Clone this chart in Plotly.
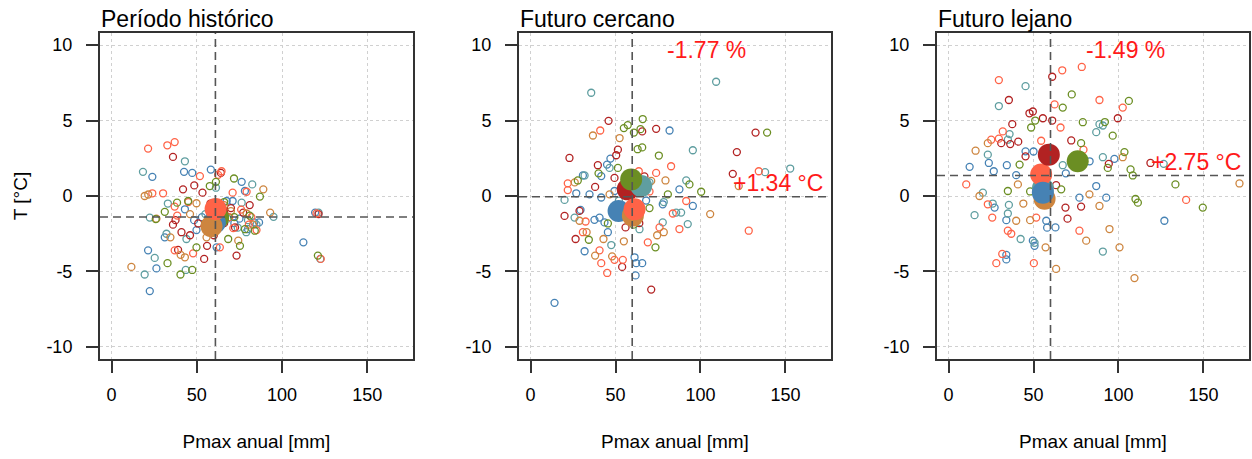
import plotly.graph_objects as go

# ---------------------------------------------------------------------------
# Scatter of annual max precipitation vs. temperature anomaly, per model,
# for the historical period and two future horizons.
# ---------------------------------------------------------------------------

panel_titles = ["Período histórico", "Futuro cercano", "Futuro lejano"]
model_colors = ["#4682B4", "#5F9EA0", "#B22222", "#FF6347", "#CD853F", "#6B8E23"]

x_ticks = [0, 50, 100, 150]
y_ticks = [-10, -5, 0, 5, 10]
y_ticklabels = ["-10", "-5", "0", "5", "10"]

# reference (historical) centre and projected changes
hist_pmax_mean = 60.9
hist_t_mean = -1.39
pmax_change_pct = [None, -1.77, -1.49]
t_change_deg = [None, 1.34, 2.75]

# --- historical period: [Pmax, T] per model -------------------------------
hist_steelblue = [[58.2, 1.75], [47.3, 1.53], [42.5, 1.6], [23.9, 1.27], [76.3, 0.94], [21.4, -3.6],
                  [26.3, -4.8], [22.4, -6.3], [112.5, -3.07], [119.4, -1.1], [31.2, -2.74], [49.8, -2.26],
                  [48.4, -1.6], [83.7, -1.75], [86.5, -1.75], [67.5, -0.33], [71.0, -0.33], [78.2, 0.33],
                  [61.6, -3.4], [43.0, -0.88], [53.0, -1.4], [66.0, -1.2], [72.0, -1.8], [57.0, -2.2],
                  [64.0, -0.9], [80.0, -2.2], [75.0, -1.5]]
hist_cadetblue = [[43.0, 2.3], [18.4, 1.6], [82.5, 0.77], [95.0, -1.38], [22.4, -1.43], [25.3, -4.1],
                  [19.4, -5.2], [43.5, -4.9], [61.2, 0.55], [76.3, -0.44], [32.2, -2.5], [43.9, -2.85],
                  [33.0, -0.5], [121.4, -1.1], [122.4, -4.17], [68.0, -1.5], [74.0, -2.1], [55.0, -1.2],
                  [80.0, -1.6], [85.0, -1.9], [79.0, -2.4]]
hist_firebrick = [[36.0, 2.59], [41.9, 0.44], [53.3, 0.22], [48.5, 0.7], [36.0, -1.9], [41.0, -2.4],
                  [46.0, -2.6], [39.0, -3.57], [54.3, -4.17], [56.0, -3.3], [73.3, -3.95], [121.4, -1.2],
                  [77.2, -1.1], [72.4, -2.08], [50.8, -1.82], [64.1, 1.53], [37.5, -1.6], [66.0, -1.8],
                  [58.0, -0.5], [70.0, -0.8], [81.0, -0.6], [60.0, -2.6]]
hist_tomato = [[21.4, 3.14], [32.7, 3.36], [37.0, 3.57], [30.2, 0.18], [23.9, 0.18], [51.8, 1.32],
               [71.0, 0.22], [79.2, 0.28], [37.0, -0.7], [38.5, -1.3], [47.8, -3.8], [37.0, -3.6],
               [63.5, -3.4], [85.0, -2.26], [80.5, -1.9], [71.4, -2.13], [122.7, -4.17], [120.2, -1.15],
               [64.5, 1.64], [62.5, 1.4], [69.0, -1.4], [45.0, -0.4], [82.0, -1.4], [76.0, -0.9]]
hist_peru = [[19.4, 0.0], [21.5, 0.1], [26.3, -1.5], [11.6, -4.7], [49.8, -0.48], [89.0, 0.44],
             [93.0, -1.1], [74.3, -2.96], [43.0, -4.06], [40.5, -3.9], [55.7, -2.74], [34.5, -2.74],
             [79.2, -1.16], [63.0, -1.8], [70.0, -1.0], [46.0, -1.2], [66.0, -0.6], [83.0, -1.9]]
hist_olivedrab = [[71.8, 1.16], [61.2, 0.94], [57.6, 0.66], [87.0, -0.04], [38.4, -0.44], [31.2, -1.05],
                  [25.9, -1.53], [32.8, -4.45], [40.4, -5.2], [47.3, -4.9], [49.8, -3.4], [75.3, -3.3],
                  [68.4, -2.85], [121.0, -3.95], [78.2, -2.2], [44.9, -0.33], [72.0, -1.4], [65.0, -1.3],
                  [81.0, -1.3], [55.0, -1.8], [84.0, -2.3], [66.0, -0.4]]
hist_model_means = [[60.6, -1.75], [61.5, -1.5], [62.0, -1.2], [61.0, -0.86], [58.6, -2.0], [62.5, -1.45]]

# --- near future ----------------------------------------------------------
near_steelblue = [[47.0, 2.48], [45.0, 2.08], [30.8, 1.36], [26.9, 0.18], [34.7, 0.11], [29.4, -0.92],
                  [37.6, -1.58], [43.5, -1.75], [45.5, -2.4], [41.6, 1.32], [49.4, 0.33], [41.6, -0.1],
                  [81.8, 4.34], [95.5, -0.66], [87.6, 0.44], [77.8, -0.55], [31.8, -3.66], [62.2, -4.45],
                  [65.7, -4.45], [61.8, -5.26], [14.1, -7.08], [40.6, -1.43], [61.2, -4.06], [55.0, 0.5],
                  [68.0, -0.3]]
near_cadetblue = [[35.7, 6.84], [109.2, 7.57], [95.5, 3.03], [91.6, 1.03], [88.6, -1.1], [85.7, -1.1],
                  [92.5, -1.86], [77.8, -1.75], [20.0, -0.26], [47.5, -3.25], [64.1, -2.2], [78.4, -0.4],
                  [31.8, 1.36], [46.5, 1.86], [25.9, -1.43], [138.0, 1.58], [152.8, 1.82], [70.0, 0.9],
                  [52.0, -0.3]]
near_firebrick = [[45.9, 4.98], [22.9, 2.52], [65.7, 4.28], [73.9, 4.45], [132.4, 4.2], [121.4, 2.91],
                  [119.0, 1.47], [39.6, 2.04], [51.4, 3.07], [50.4, 2.7], [26.5, -2.85], [20.0, -1.32],
                  [53.9, -4.7], [71.0, -6.2], [49.4, 1.2], [67.0, 1.3], [28.8, -0.99], [55.9, -2.08],
                  [64.0, -1.8], [38.0, 0.6]]
near_tomato = [[41.0, 4.34], [21.9, 0.84], [21.9, 0.39], [82.7, 1.97], [134.3, 1.64], [128.4, -2.3],
               [83.7, -1.16], [87.6, -2.19], [91.6, -0.33], [41.6, -4.45], [45.1, -5.1], [49.4, -4.23],
               [54.3, -4.23], [40.6, -3.6], [30.8, -2.4], [69.0, -3.07], [75.9, -2.08], [73.9, 1.53],
               [63.7, 1.64], [32.4, -1.69], [58.0, -1.5], [70.0, 0.3]]
near_peru = [[36.7, 4.01], [52.4, 3.84], [105.7, -1.2], [122.5, 0.66], [78.4, -2.4], [74.5, -2.6],
             [54.9, -3.0], [38.0, -3.95], [48.0, -4.0], [42.9, -2.85], [33.0, -2.4], [28.8, -1.64],
             [79.4, 1.03], [71.0, 1.0], [46.5, 0.11], [26.0, 0.9], [60.0, -1.4]]
near_olivedrab = [[66.0, 5.1], [57.2, 4.7], [54.9, 4.5], [60.8, 4.2], [64.7, 4.43], [63.0, 3.1],
                  [65.7, 3.22], [75.5, 2.68], [139.2, 4.2], [100.4, 0.28], [93.5, 0.77], [80.8, 0.11],
                  [73.5, -3.4], [34.3, -2.9], [27.8, 1.03], [51.4, 1.86], [45.5, -1.82], [60.5, -1.9],
                  [40.0, 1.5], [70.0, -0.8]]
near_model_means = [[51.8, -0.99], [65.1, 0.66], [57.2, 0.44], [61.2, -0.88], [60.2, -1.3], [59.2, 1.1]]

# --- far future -----------------------------------------------------------
far_steelblue = [[12.4, 1.93], [23.7, 2.19], [34.3, 2.04], [45.3, 2.96], [50.0, 2.95], [39.8, 1.38],
                 [26.6, 1.64], [27.1, -0.77], [34.0, -1.6], [49.6, -2.96], [50.6, -3.3], [62.9, -2.08],
                 [58.0, -2.1], [86.9, 0.66], [92.8, -0.11], [127.0, -1.64], [97.6, 2.46], [77.0, -0.11],
                 [57.5, -1.64], [34.0, -3.9], [34.0, -4.2], [83.0, 2.3], [69.0, 1.5]]
far_cadetblue = [[45.3, 7.28], [29.6, 5.96], [86.9, 4.23], [90.8, 4.67], [88.8, 4.76], [90.8, 2.57],
                 [126.6, 2.13], [15.3, -1.27], [34.9, -1.16], [42.4, -2.85], [50.6, -3.1], [90.8, -3.68],
                 [23.1, 2.74], [35.9, 4.1], [34.9, 3.73], [67.2, 2.04], [20.2, 0.22], [35.5, -0.59],
                 [26.0, -0.5]]
far_firebrick = [[61.0, 7.9], [35.5, 6.36], [47.6, 5.48], [49.6, 5.6], [55.5, 5.15], [61.0, 5.0],
                 [99.6, 5.15], [37.5, 4.76], [72.2, 3.68], [36.3, 3.44], [31.0, 3.5], [41.0, 3.6],
                 [45.3, 2.63], [63.3, 0.72], [68.8, -0.77], [78.0, -0.7], [94.3, 2.13], [118.8, 2.19],
                 [70.0, -1.5]]
far_tomato = [[29.6, 7.68], [66.9, 8.33], [78.4, 8.55], [88.8, 6.36], [102.5, 5.86], [62.4, 6.07],
              [65.9, 4.54], [31.9, 4.28], [29.6, 3.8], [25.1, 3.73], [54.5, 3.66], [79.4, 3.07],
              [10.4, 0.77], [23.1, -0.55], [25.7, -1.43], [34.9, -2.3], [36.9, -2.5], [31.6, -3.84],
              [28.1, -4.45], [50.2, -4.45], [77.0, -2.3], [139.8, -0.26], [51.6, -1.43], [75.0, 2.2]]
far_peru = [[15.9, 3.0], [23.1, 3.5], [18.2, 0.0], [40.8, 0.77], [57.1, -3.4], [63.3, -4.83],
            [39.8, -1.64], [48.0, -1.6], [82.9, 0.11], [88.8, -0.66], [94.7, -2.19], [100.6, -3.4],
            [81.0, -2.96], [109.4, -5.44], [171.2, 0.83], [102.5, 2.57], [44.0, -0.5], [54.0, -0.5]]
far_olivedrab = [[72.5, 6.73], [67.2, 5.86], [106.1, 6.3], [79.0, 4.89], [96.6, 4.0], [92.0, 4.9],
                 [48.6, 4.54], [51.0, 5.0], [78.0, 3.5], [103.5, 2.91], [107.1, 1.76], [108.4, 1.36],
                 [110.0, -0.2], [111.4, -0.44], [133.5, 0.77], [149.6, -0.77], [93.7, 1.86], [34.9, 0.33],
                 [41.8, 2.08], [66.3, 0.44], [48.0, 0.3]]
far_model_means = [[55.5, 0.22], [55.5, 0.5], [59.0, 2.74], [54.5, 1.43], [56.5, -0.18], [76.0, 2.3]]

panel_points = [
    [hist_steelblue, hist_cadetblue, hist_firebrick, hist_tomato, hist_peru, hist_olivedrab],
    [near_steelblue, near_cadetblue, near_firebrick, near_tomato, near_peru, near_olivedrab],
    [far_steelblue, far_cadetblue, far_firebrick, far_tomato, far_peru, far_olivedrab],
]
panel_means = [hist_model_means, near_model_means, far_model_means]

# drawing order of the large mean markers in each panel
mean_order = [[2, 1, 5, 0, 4, 3], [2, 1, 5, 0, 4, 3], [4, 1, 3, 0, 2, 5]]

# ---------------------------------------------------------------------------
W, H = 1252, 459
x_domains = [(100 / W, 413 / W), (519 / W, 831 / W), (937 / W, 1249 / W)]
y_domain = (1 - 359 / H, 1 - 33 / H)
X_RANGE = [-6.8, 176.8]
Y_RANGE = [-10.8, 10.8]
FONT = "Liberation Sans, Arial, sans-serif"
FRAME = "#333333"
RED = "#FF1A1A"

fig = go.Figure()
layout = dict(
    width=W, height=H,
    margin=dict(l=0, r=0, t=0, b=0),
    paper_bgcolor="white", plot_bgcolor="white",
    showlegend=False,
    font=dict(family=FONT, color="black"),
    shapes=[], annotations=[],
)

for p in range(3):
    suffix = "" if p == 0 else str(p + 1)
    xa, ya = "x" + suffix, "y" + suffix

    for color, pts in zip(model_colors, panel_points[p]):
        fig.add_trace(go.Scatter(
            x=[v[0] for v in pts], y=[v[1] for v in pts], mode="markers",
            xaxis=xa, yaxis=ya,
            marker=dict(symbol="circle-open", size=7, color=color, line=dict(width=1.3, color=color)),
            hoverinfo="skip",
        ))

    for m in mean_order[p]:
        mx, my = panel_means[p][m]
        fig.add_trace(go.Scatter(
            x=[mx], y=[my], mode="markers", xaxis=xa, yaxis=ya,
            marker=dict(symbol="circle", size=22, color=model_colors[m], line=dict(width=0)),
            hoverinfo="skip",
        ))

    # reference cross: historical centre shifted by the projected change
    if p == 0:
        vx, hy = hist_pmax_mean, hist_t_mean
    else:
        vx = hist_pmax_mean * (1 + pmax_change_pct[p] / 100)
        hy = hist_t_mean + t_change_deg[p]
    dash_line = dict(color="#555555", width=1.6, dash="8px,5px")
    layout["shapes"].append(dict(type="line", xref=xa, yref=ya + " domain", x0=vx, x1=vx, y0=0, y1=1,
                                 line=dash_line, layer="above"))
    layout["shapes"].append(dict(type="line", xref=xa + " domain", yref=ya, x0=0, x1=1, y0=hy, y1=hy,
                                 line=dash_line, layer="above"))

    if p > 0:
        layout["annotations"].append(dict(
            xref=xa, yref=ya, x=vx + 44, y=9.7, text=f"{pmax_change_pct[p]:+.2f} %",
            showarrow=False, xanchor="center", yanchor="middle",
            font=dict(family=FONT, size=23, color=RED)))
        layout["annotations"].append(dict(
            xref=xa, yref=ya, x=145.5, y=hy + 0.9, text=f"{t_change_deg[p]:+.2f} °C",
            showarrow=False, xanchor="center", yanchor="middle",
            font=dict(family=FONT, size=23, color=RED)))

    layout["annotations"].append(dict(
        xref="paper", yref="paper", x=x_domains[p][0] - 1 / W, y=1 - 19 / H,
        text=panel_titles[p], showarrow=False, xanchor="left", yanchor="middle",
        font=dict(family=FONT, size=23, color="black")))

    axis_common = dict(
        showline=True, mirror=True, linecolor=FRAME, linewidth=2,
        ticks="outside", ticklen=12, tickwidth=1.5, tickcolor=FRAME,
        showgrid=True, gridcolor="#D0D0D0", griddash="dot", gridwidth=1,
        zeroline=False, automargin=False, fixedrange=True,
        tickfont=dict(family=FONT, size=18, color="black"),
    )
    layout["xaxis" + suffix] = dict(
        axis_common, domain=list(x_domains[p]), range=X_RANGE, anchor=ya,
        tickvals=x_ticks, ticklabelstandoff=6,
        title=dict(text="Pmax anual [mm]", font=dict(family=FONT, size=19), standoff=31),
    )
    layout["yaxis" + suffix] = dict(
        axis_common, domain=list(y_domain), range=Y_RANGE, anchor=xa,
        tickvals=y_ticks, ticktext=y_ticklabels, ticklabelstandoff=10,
        title=dict(text="T [°C]" if p == 0 else "", font=dict(family=FONT, size=19), standoff=14),
    )

fig.update_layout(**layout)
fig.write_html("out.html")
